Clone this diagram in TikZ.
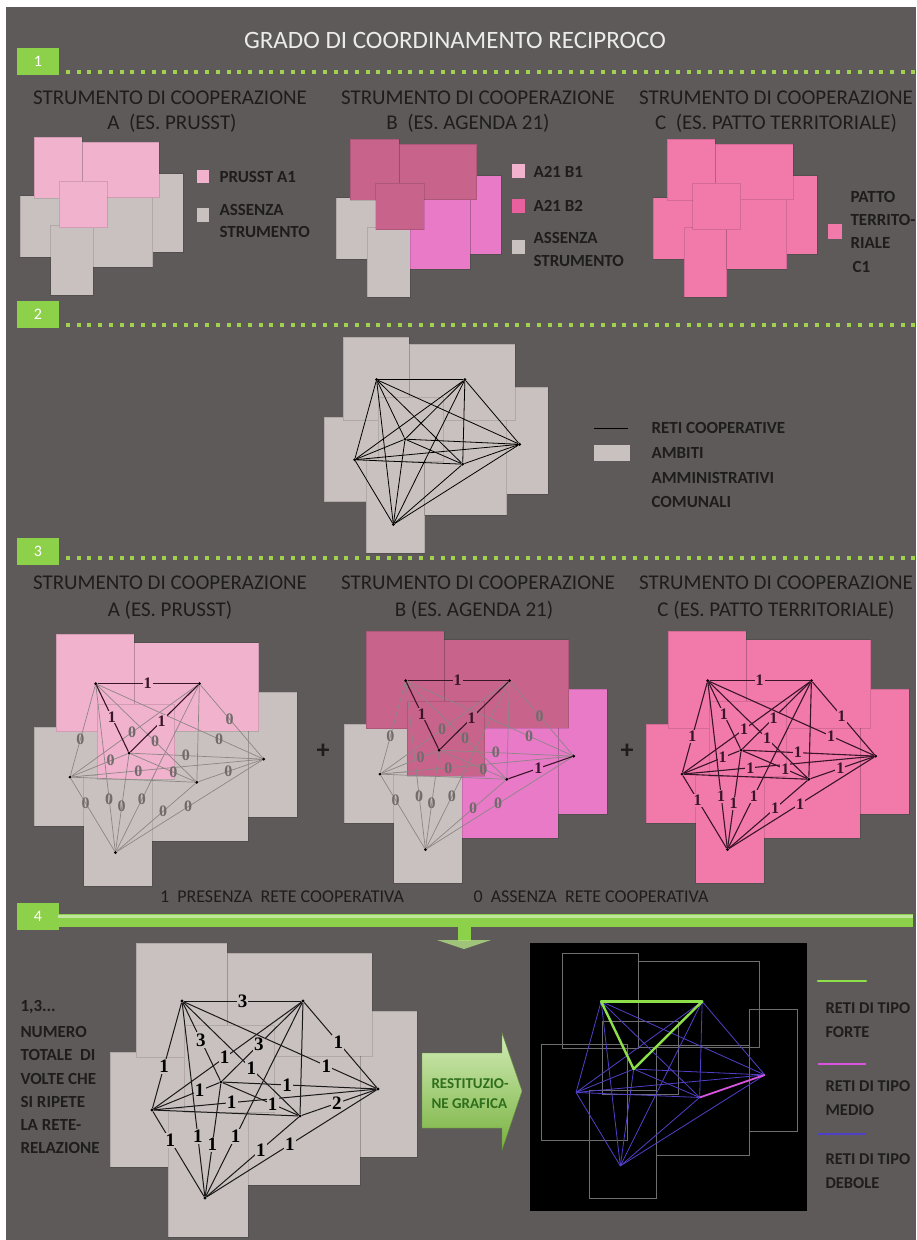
\documentclass[tikz,border=0pt]{standalone}
\usepackage{fontspec}
\setmainfont{Carlito}
\newfontfamily\numfont{Liberation Serif}
\usetikzlibrary{positioning}

\definecolor{sfondo}{HTML}{5F5A5A}
\definecolor{ambgrigio}{HTML}{C9C1BF}
\definecolor{rosachiaro}{HTML}{F0B2CC}
\definecolor{rosascuro}{HTML}{C8648C}
\definecolor{rosavivo}{HTML}{E87AC8}
\definecolor{rosapatto}{HTML}{F27AAB}
\definecolor{rosaleg}{HTML}{E8609E}
\definecolor{verde}{HTML}{8DD04A}
\definecolor{verdepunto}{HTML}{A2D150}
\definecolor{verdescuro}{HTML}{2E6E1C}
\definecolor{testo}{HTML}{1E1C1C}
\definecolor{retegrigia}{HTML}{8E8686}
\definecolor{retescura}{HTML}{3A1428}
\definecolor{contorno}{HTML}{6E6E6E}
\definecolor{colforte}{HTML}{8EE04A}
\definecolor{colmedio}{HTML}{D854E0}
\definecolor{coldebole}{HTML}{5040C8}

% the seven municipal areas (px of the largest drawing)
\newcommand\mappa[7]{%
  \path[ambito=#4] (0,109) rectangle (104,224);
  \path[ambito=#7] (58,165) rectangle (138,294);
  \path[ambito=#5] (250,68) rectangle (307,214);
  \path[ambito=#6] (138,111) rectangle (250,242);
  \path[ambito=#2] (117,10) rectangle (262,113);
  \path[ambito=#1] (26,0) rectangle (117,114);
  \path[ambito=#3] (74,82) rectangle (164,169);
}
\newcommand\nodi[2]{%
  \foreach \n/\x/\y in {1/72/58, 2/193/58, 3/111/139, 4/42/167,
                        5/268/146, 6/190/173, 7/95/255}
    \node[#2] (#1\n) at (\x,\y) {};
}
% from/to/label pos/times the link repeats
\newcommand\reti{1/2/.5/3, 1/3/.48/3, 2/3/.54/3, 1/4/.6/1, 2/5/.47/1,
  1/5/.74/1, 2/4/.52/1, 1/6/.59/1, 4/3/.7/1, 3/5/.42/1, 4/5/.35/1,
  3/6/.66/1, 6/5/.47/2, 4/7/.34/1, 1/7/.69/1, 3/7/.54/1, 2/7/.69/1,
  6/7/.41/1, 5/7/.51/1, 2/6/.5/0, 4/6/.5/0}

\begin{document}
\begin{tikzpicture}[x=1pt, y=-1pt,
  ambito/.style={fill=#1, draw=black, draw opacity=.12, line width=.6pt},
  punto/.style={circle, fill=black, inner sep=0pt, minimum size=3.2pt},
  marcatore/.style={fill=verde, text=white, minimum width=42pt,
    minimum height=27pt, inner sep=0pt, font=\fontsize{16}{16}\selectfont},
  titolo/.style={text=white!92!black, font=\fontsize{25}{25}\selectfont, anchor=base},
  intest/.style={text=testo, font=\fontsize{21}{21}\selectfont, anchor=base},
  legenda/.style={text=testo, font=\bfseries\fontsize{17}{17}\selectfont, anchor=base west},
  lineadue/.style={black, line width=.8pt},
  lineauno/.style={retescura, line width=1.1pt},
  lineazero/.style={retegrigia, line width=.7pt},
  lineaquattro/.style={black!90, line width=1pt},
  cifra/.style={text=retescura, inner sep=1pt,
    font=\numfont\bfseries\fontsize{16}{16}\selectfont},
  cifrazero/.style={text=retegrigia!80!black, inner sep=1pt,
    font=\numfont\bfseries\fontsize{16}{16}\selectfont},
  cifraquattro/.style={text=black, fill=ambgrigio, inner sep=1.2pt,
    font=\numfont\bfseries\fontsize{19}{19}\selectfont},
  debole/.style={coldebole, line width=.8pt},
  medio/.style={colmedio, line width=1.8pt},
  forte/.style={colforte, line width=2.4pt, line cap=round}]

\useasboundingbox (0,0) rectangle (916,1240);
\clip (0,0) rectangle (916,1240);
\fill[white] (0,0) rectangle (916,1240);
\fill[sfondo] (6,7) rectangle (916,1240);

\node[titolo] (titolo) at (455,48) {GRADO DI COORDINAMENTO RECIPROCO};

% section markers and dotted rules
\node[marcatore] (m1) at (38,61) {1};
\node[marcatore] (m2) at (38,314) {2};
\node[marcatore] (m3) at (38,551) {3};
\node[marcatore] (m4) at (38,916) {4};
\foreach \yy in {70,323,556}
  \foreach \i in {0,...,79}
    \fill[verdepunto] ({66+10.7*\i},\yy) rectangle ++(4,4);
\fill[verde] (58,914) rectangle (913,927);
\fill[verde!55!white] (58,915) rectangle (913,918);
\fill[verde] (458,927) rectangle (471,941);
\fill[verde!70!white, opacity=.8] (437,940) -- (491,940) -- (464,949) -- cycle;

% ---------- 1
\node[intest] (h1a) at (170,104.5) {STRUMENTO DI COOPERAZIONE};
\node[intest] (h1b) at (478,104.5) {STRUMENTO DI COOPERAZIONE};
\node[intest] (h1c) at (776,104.5) {STRUMENTO DI COOPERAZIONE};
\node[intest] (s1a) at (172,129.5) {A\ \ (ES. PRUSST)};
\node[intest] (s1b) at (468,129.5) {B\ \ (ES. AGENDA 21)};
\node[intest] (s1c) at (776,129.5) {C\ \ (ES. PATTO TERRITORIALE)};

\begin{scope}[shift={(20,137)}, xscale=.531, yscale=.537]
  \mappa{rosachiaro}{rosachiaro}{rosachiaro}{ambgrigio}{ambgrigio}{ambgrigio}{ambgrigio}
\end{scope}
\begin{scope}[shift={(336,139)}, xscale=.537, yscale=.537]
  \mappa{rosascuro}{rosascuro}{rosascuro}{ambgrigio}{rosavivo}{rosavivo}{ambgrigio}
\end{scope}
\begin{scope}[shift={(653,139)}, xscale=.534, yscale=.537]
  \mappa{rosapatto}{rosapatto}{rosapatto}{rosapatto}{rosapatto}{rosapatto}{rosapatto}
\end{scope}

\fill[rosachiaro] (197,170) rectangle (209,183);
\fill[ambgrigio] (197,208) rectangle (209,222);
\node[legenda] (la1) at (216,182.5) {PRUSST A1};
\node[legenda] (la2) at (216,215.5) {ASSENZA};
\node[legenda] (la3) at (216,237.5) {STRUMENTO};

\fill[rosachiaro] (512,164) rectangle (525,178);
\fill[rosaleg] (512,199) rectangle (525,213);
\fill[ambgrigio] (512,240) rectangle (525,254);
\node[legenda] (lb1) at (530,177.5) {A21 B1};
\node[legenda] (lb2) at (530,211.5) {A21 B2};
\node[legenda] (lb3) at (530,243.5) {ASSENZA};
\node[legenda] (lb4) at (530,266.5) {STRUMENTO};

\fill[rosapatto] (828,224) rectangle (842,239);
\node[legenda] (lc1) at (847,202.5) {PATTO};
\node[legenda] (lc2) at (847,225) {TERRITO-};
\node[legenda] (lc3) at (847,248.5) {RIALE};
\node[legenda] (lc4) at (849,272.5) {C1};

% ---------- 2
\begin{scope}[shift={(324,337)}, xscale=.73, yscale=.735]
  \mappa{ambgrigio}{ambgrigio}{ambgrigio}{ambgrigio}{ambgrigio}{ambgrigio}{ambgrigio}
  \nodi{S}{punto}
\end{scope}
\foreach \ua/\ub/\pp/\vv in \reti
  \draw[lineadue] (S\ua) -- (S\ub);

\draw[black, line width=.8pt] (594,428) -- (628,428);
\fill[ambgrigio] (594,445) rectangle (630,461);
\node[legenda] (l2a) at (648,433.5) {RETI COOPERATIVE};
\node[legenda] (l2b) at (648,458.5) {AMBITI};
\node[legenda] (l2c) at (648,483.5) {AMMINISTRATIVI};
\node[legenda] (l2d) at (648,507.5) {COMUNALI};

% ---------- 3
\node[intest] (h3a) at (170,589.5) {STRUMENTO DI COOPERAZIONE};
\node[intest] (h3b) at (478,589.5) {STRUMENTO DI COOPERAZIONE};
\node[intest] (h3c) at (776,589.5) {STRUMENTO DI COOPERAZIONE};
\node[intest] (s3a) at (170,616.5) {A (ES. PRUSST)};
\node[intest] (s3b) at (474,616.5) {B (ES. AGENDA 21)};
\node[intest] (s3c) at (776,616.5) {C (ES. PATTO TERRITORIALE)};

\begin{scope}[shift={(34,634)}, scale=.857]
  \mappa{rosachiaro}{rosachiaro}{rosachiaro}{ambgrigio}{ambgrigio}{ambgrigio}{ambgrigio}
  \nodi{A}{punto}
\end{scope}
\foreach \ua/\ub/\pp/\vv in \reti {
  \ifnum\vv=0 \draw[lineazero] (A\ua) -- (A\ub); \fi
  \ifnum\vv=1 \draw[lineazero] (A\ua) -- node[cifrazero, pos=\pp] {0} (A\ub); \fi
  \ifnum\vv=2 \draw[lineazero] (A\ua) -- node[cifrazero, pos=\pp] {0} (A\ub); \fi
}
\foreach \ua/\ub/\pp/\vv in \reti {
  \ifnum\vv=3 \draw[lineauno] (A\ua) -- node[cifra, fill=rosachiaro, pos=\pp] {1} (A\ub); \fi
}

\begin{scope}[shift={(344,631)}, scale=.857]
  \mappa{rosascuro}{rosascuro}{rosascuro}{ambgrigio}{rosavivo}{rosavivo}{ambgrigio}
  \nodi{B}{punto}
\end{scope}
\foreach \ua/\ub/\pp/\vv in \reti {
  \ifnum\vv=0 \draw[lineazero] (B\ua) -- (B\ub); \fi
  \ifnum\vv=1 \draw[lineazero] (B\ua) -- node[cifrazero, pos=\pp] {0} (B\ub); \fi
}
\foreach \ua/\ub/\pp/\vv in \reti {
  \ifnum\vv=2 \draw[lineauno] (B\ua) -- node[cifra, fill=rosavivo, pos=\pp] {1} (B\ub); \fi
  \ifnum\vv=3 \draw[lineauno] (B\ua) -- node[cifra, fill=rosascuro, pos=\pp] {1} (B\ub); \fi
}

\begin{scope}[shift={(646,631)}, scale=.857]
  \mappa{rosapatto}{rosapatto}{rosapatto}{rosapatto}{rosapatto}{rosapatto}{rosapatto}
  \nodi{C}{punto}
\end{scope}
\foreach \ua/\ub/\pp/\vv in \reti {
  \ifnum\vv=0 \draw[lineauno] (C\ua) -- (C\ub);
  \else \draw[lineauno] (C\ua) -- node[cifra, fill=rosapatto, pos=\pp] {1} (C\ub);
  \fi
}

\node[intest, font=\bfseries\fontsize{26}{26}\selectfont, anchor=center] (piu1) at (323,751) {+};
\node[intest, font=\bfseries\fontsize{26}{26}\selectfont, anchor=center] (piu2) at (627,751) {+};

\node[intest, font=\fontsize{18}{18}\selectfont] (pres) at (282,902) {1\ \ PRESENZA\ \ RETE COOPERATIVA};
\node[intest, font=\fontsize{18}{18}\selectfont] (ass) at (591,902) {0\ \ ASSENZA\ \ RETE COOPERATIVA};

% ---------- 4
\node[legenda] (n0) at (17,1011.6) {1,3...};
\foreach \riga [count=\k] in {NUMERO, TOTALE\ \ DI, VOLTE CHE, SI RIPETE, LA RETE-, RELAZIONE}
  \node[legenda] (n\k) at (17,{1037.6+23.2*(\k-1)}) {\riga};

\begin{scope}[shift={(110,943)}]
  \mappa{ambgrigio}{ambgrigio}{ambgrigio}{ambgrigio}{ambgrigio}{ambgrigio}{ambgrigio}
  \nodi{Q}{punto}
\end{scope}
\foreach \ua/\ub/\pp/\vv in \reti {
  \ifnum\vv=0 \draw[lineaquattro] (Q\ua) -- (Q\ub);
  \else \draw[lineaquattro] (Q\ua) -- node[cifraquattro, pos=\pp] {\vv} (Q\ub);
  \fi
}

\shade[top color=verde!40!white, bottom color=verde!85!black, draw=verde!70!black]
  (422,1053) -- (502,1053) -- (502,1033) -- (522,1091) -- (502,1150)
  -- (502,1128) -- (422,1128) -- cycle;
\node[legenda, text=verdescuro, font=\bfseries\fontsize{15}{15}\selectfont]
  (rest1) at (428,1088) {RESTITUZIO-};
\node[legenda, text=verdescuro, font=\bfseries\fontsize{15}{15}\selectfont]
  (rest2) at (428,1108) {NE GRAFICA};

\fill[black] (530,943) rectangle (807,1211);
\begin{scope}[shift={(541,953)}, scale=.835,
    ambito/.style={draw=contorno, line width=.8pt}]
  \mappa{}{}{}{}{}{}{}
  \nodi{K}{coordinate}
\end{scope}
\foreach \ua/\ub/\pp/\vv in \reti {
  \ifnum\vv<2 \draw[debole] (K\ua) -- (K\ub); \fi
}
\foreach \ua/\ub/\pp/\vv in \reti {
  \ifnum\vv=2 \draw[medio] (K\ua) -- (K\ub); \fi
  \ifnum\vv=3 \draw[forte] (K\ua) -- (K\ub); \fi
}

\draw[forte] (818,981) -- (866,981);
\draw[medio] (818,1064) -- (866,1064);
\draw[debole, line width=2pt] (818,1134) -- (866,1134);
\node[legenda, font=\bfseries\fontsize{16.5}{16.5}\selectfont] (f1) at (822,1013) {RETI DI TIPO};
\node[legenda, font=\bfseries\fontsize{16.5}{16.5}\selectfont] (f2) at (822,1037) {FORTE};
\node[legenda, font=\bfseries\fontsize{16.5}{16.5}\selectfont] (f3) at (822,1091) {RETI DI TIPO};
\node[legenda, font=\bfseries\fontsize{16.5}{16.5}\selectfont] (f4) at (822,1115) {MEDIO};
\node[legenda, font=\bfseries\fontsize{16.5}{16.5}\selectfont] (f5) at (822,1164) {RETI DI TIPO};
\node[legenda, font=\bfseries\fontsize{16.5}{16.5}\selectfont] (f6) at (822,1188) {DEBOLE};
\end{tikzpicture}
\end{document}
